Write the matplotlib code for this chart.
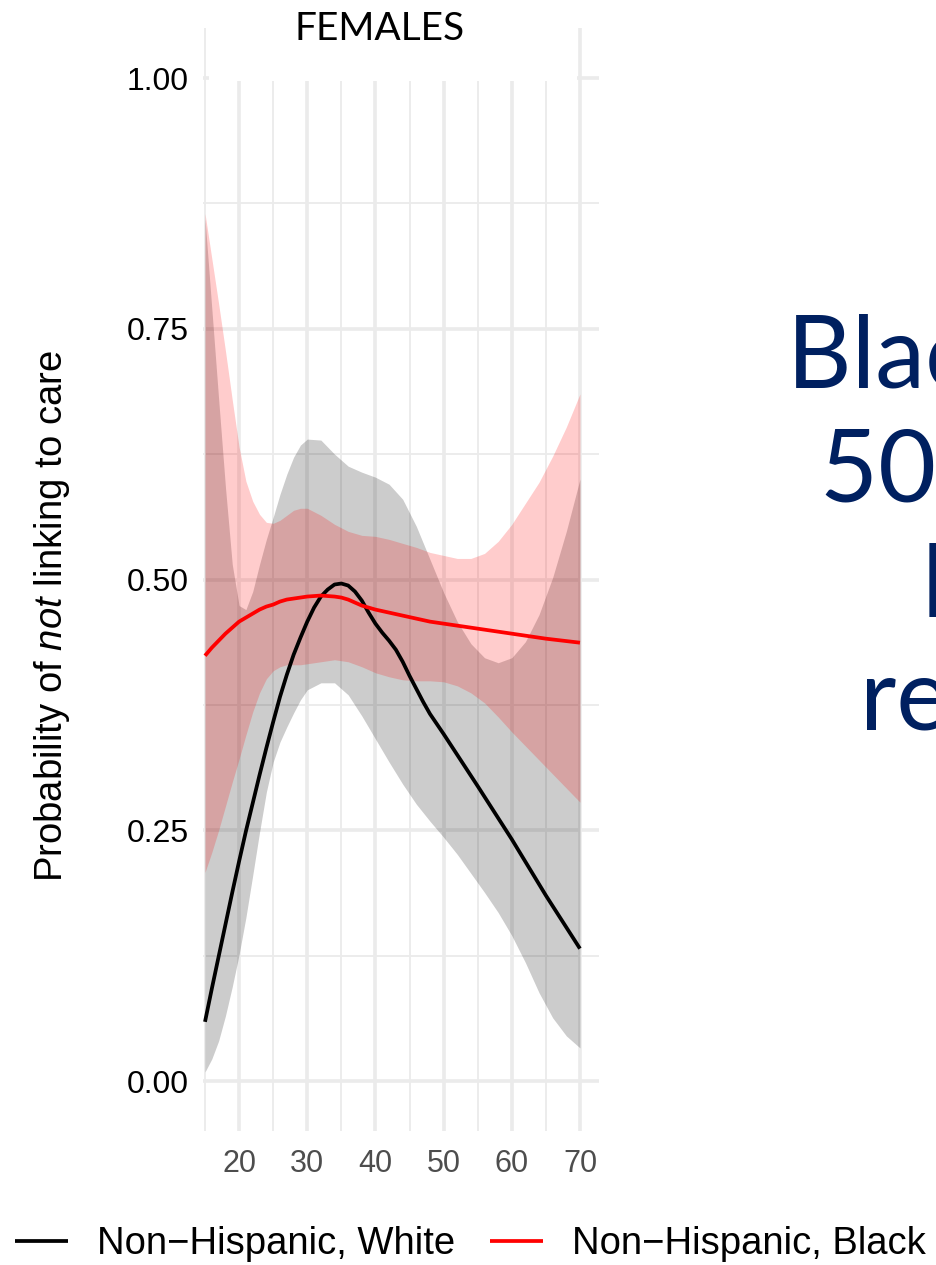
import numpy as np
import matplotlib
matplotlib.use("Agg")
import matplotlib.pyplot as plt
from matplotlib.patches import Rectangle

plt.rcParams['font.family'] = ['Liberation Sans', 'DejaVu Sans']
plt.rcParams['mathtext.fontset'] = 'custom'
plt.rcParams['mathtext.rm'] = 'Liberation Sans'
plt.rcParams['mathtext.it'] = 'Liberation Sans:italic'

# ---- data -------------------------------------------------------------
series_names = ['Non\u2212Hispanic, White', 'Non\u2212Hispanic, Black']
series_colors = ['black', 'red']

# fitted probability curves
age_white = [15, 16, 17, 18, 19, 20, 21, 22, 23, 24, 25, 26, 27, 28, 29, 30,
             31, 32, 33, 34, 35, 36, 37, 38, 39, 40, 41, 42, 43, 44, 45, 46,
             47, 48, 49, 50, 55, 60, 65, 70]
prob_white = [0.059, 0.092, 0.124, 0.156, 0.188, 0.219, 0.249, 0.277, 0.305,
              0.332, 0.358, 0.383, 0.405, 0.425, 0.442, 0.458, 0.472, 0.483,
              0.490, 0.495, 0.496, 0.494, 0.488, 0.479, 0.467, 0.456, 0.447,
              0.439, 0.430, 0.418, 0.404, 0.391, 0.378, 0.366, 0.356, 0.346,
              0.294, 0.241, 0.185, 0.132]

age_black = [15, 16, 17, 18, 19, 20, 21, 22, 23, 24, 25, 26, 27, 28, 29, 30,
             32, 34, 35, 36, 37, 38, 39, 40, 42, 44, 46, 48, 50, 55, 60, 65, 70]
prob_black = [0.424, 0.432, 0.439, 0.446, 0.452, 0.458, 0.462, 0.466, 0.470,
              0.473, 0.475, 0.478, 0.480, 0.481, 0.482, 0.483, 0.484, 0.483,
              0.482, 0.480, 0.477, 0.474, 0.472, 0.470, 0.467, 0.464, 0.461,
              0.458, 0.456, 0.451, 0.446, 0.441, 0.437]

# confidence bands
ci_age = [15, 16, 17, 18, 19, 20, 21, 22, 23, 24, 25, 26, 27, 28, 29, 30,
          32, 34, 36, 38, 40, 42, 44, 46, 48, 50, 52, 54, 56, 58, 60, 62, 64,
          66, 68, 70]
white_lo = [0.009, 0.022, 0.040, 0.065, 0.094, 0.126, 0.163, 0.205, 0.248,
            0.288, 0.318, 0.338, 0.353, 0.367, 0.380, 0.390, 0.397, 0.397,
            0.385, 0.364, 0.341, 0.318, 0.296, 0.276, 0.259, 0.243, 0.226,
            0.207, 0.188, 0.168, 0.145, 0.118, 0.088, 0.063, 0.045, 0.033]
white_hi = [0.860, 0.770, 0.680, 0.592, 0.515, 0.474, 0.470, 0.488, 0.515,
            0.540, 0.562, 0.585, 0.605, 0.622, 0.634, 0.640, 0.639, 0.625,
            0.613, 0.607, 0.602, 0.595, 0.580, 0.553, 0.520, 0.487, 0.458,
            0.436, 0.422, 0.417, 0.422, 0.438, 0.465, 0.502, 0.548, 0.600]
black_lo = [0.208, 0.228, 0.250, 0.274, 0.298, 0.321, 0.345, 0.368, 0.387,
            0.401, 0.409, 0.413, 0.415, 0.415, 0.415, 0.416, 0.418, 0.420,
            0.418, 0.413, 0.407, 0.403, 0.400, 0.399, 0.399, 0.398, 0.394,
            0.387, 0.377, 0.363, 0.348, 0.334, 0.320, 0.306, 0.292, 0.278]
black_hi = [0.865, 0.820, 0.775, 0.728, 0.679, 0.632, 0.598, 0.578, 0.565,
            0.557, 0.556, 0.559, 0.564, 0.569, 0.571, 0.571, 0.564, 0.555,
            0.548, 0.544, 0.543, 0.540, 0.536, 0.532, 0.527, 0.524, 0.521,
            0.521, 0.526, 0.538, 0.555, 0.576, 0.597, 0.623, 0.652, 0.685]

x_major = [20, 30, 40, 50, 60, 70]
x_minor = [15, 25, 35, 45, 55, 65]
y_major = [0.00, 0.25, 0.50, 0.75, 1.00]
y_minor = [0.125, 0.375, 0.625, 0.875]
y_ticklabels = ['0.00', '0.25', '0.50', '0.75', '1.00']

panel_title = 'FEMALES'
y_title = 'Probability of $\\mathit{not}$ linking to care'
side_lines = ['Black women', '50% less', 'likely to be', 'retained']

# ---- figure -----------------------------------------------------------
W, H = 936, 1265
fig = plt.figure(figsize=(W / 100, H / 100), dpi=100)

left_px, right_px = 202.95, 598.7
top_px, bot_px = 27.85, 1131.15
ax = fig.add_axes([left_px / W, 1 - bot_px / H,
                   (right_px - left_px) / W, (bot_px - top_px) / H])
ax.set_xlim(14.7, 72.75)
ax.set_ylim(-0.05, 1.05)

ax.set_xticks(x_major)
ax.set_xticks(x_minor, minor=True)
ax.set_yticks(y_major)
ax.set_yticklabels(y_ticklabels)
ax.set_yticks(y_minor, minor=True)
ax.set_axisbelow(True)
ax.grid(which='major', color='#EBEBEB', lw=2.6)
ax.grid(which='minor', color='#EBEBEB', lw=1.3)
for s in ax.spines.values():
    s.set_visible(False)
ax.tick_params(which='both', length=0)
ax.tick_params(axis='x', labelsize=22, labelcolor='#4D4D4D', pad=12.5)
ax.tick_params(axis='y', labelsize=23, labelcolor='black', pad=10)

# white group: band, then line; black group drawn over it
ax.fill_between(ci_age, white_lo, white_hi, color='black', alpha=0.2, lw=0)
l_white, = ax.plot(age_white, prob_white, color=series_colors[0], lw=2.7,
                   solid_capstyle='butt', solid_joinstyle='round')
ax.fill_between(ci_age, black_lo, black_hi, color='red', alpha=0.2, lw=0)
l_black, = ax.plot(age_black, prob_black, color=series_colors[1], lw=2.7,
                   solid_capstyle='butt', solid_joinstyle='round')

# title box over the top of the panel
fig.add_artist(Rectangle((209 / W, 1 - 81 / H), (577 - 209) / W, 81 / H,
                         transform=fig.transFigure, facecolor='white',
                         edgecolor='none', zorder=5))
fig.text(379.5 / W, 1 - 40 / H, panel_title, ha='center', va='baseline',
         fontsize=28, family=['Lato', 'DejaVu Sans'], color='black', zorder=6)

# axis title
fig.text(52 / W, 1 - 616 / H, y_title, rotation=90, ha='center', va='center',
         fontsize=27.5, color='black')

# legend
fig.legend(handles=[l_white, l_black], labels=series_names, ncol=2,
           loc='center left', bbox_to_anchor=(15 / W, 1 - 1244 / H),
           frameon=False, fontsize=27.5, handlelength=1.39, handletextpad=0.76,
           columnspacing=0.92, borderpad=0, borderaxespad=0)

# slide text on the right
navy = '#002060'
side_x = [787, 820, 922, 860]
side_base = [387, 502, 617, 730]
for txt, x0, yb in zip(side_lines, side_x, side_base):
    fig.text(x0 / W, 1 - yb / H, txt, ha='left', va='baseline', fontsize=72,
             family=['Lato', 'DejaVu Sans'], color=navy)

fig.savefig('out.png', dpi=100, facecolor='white')
